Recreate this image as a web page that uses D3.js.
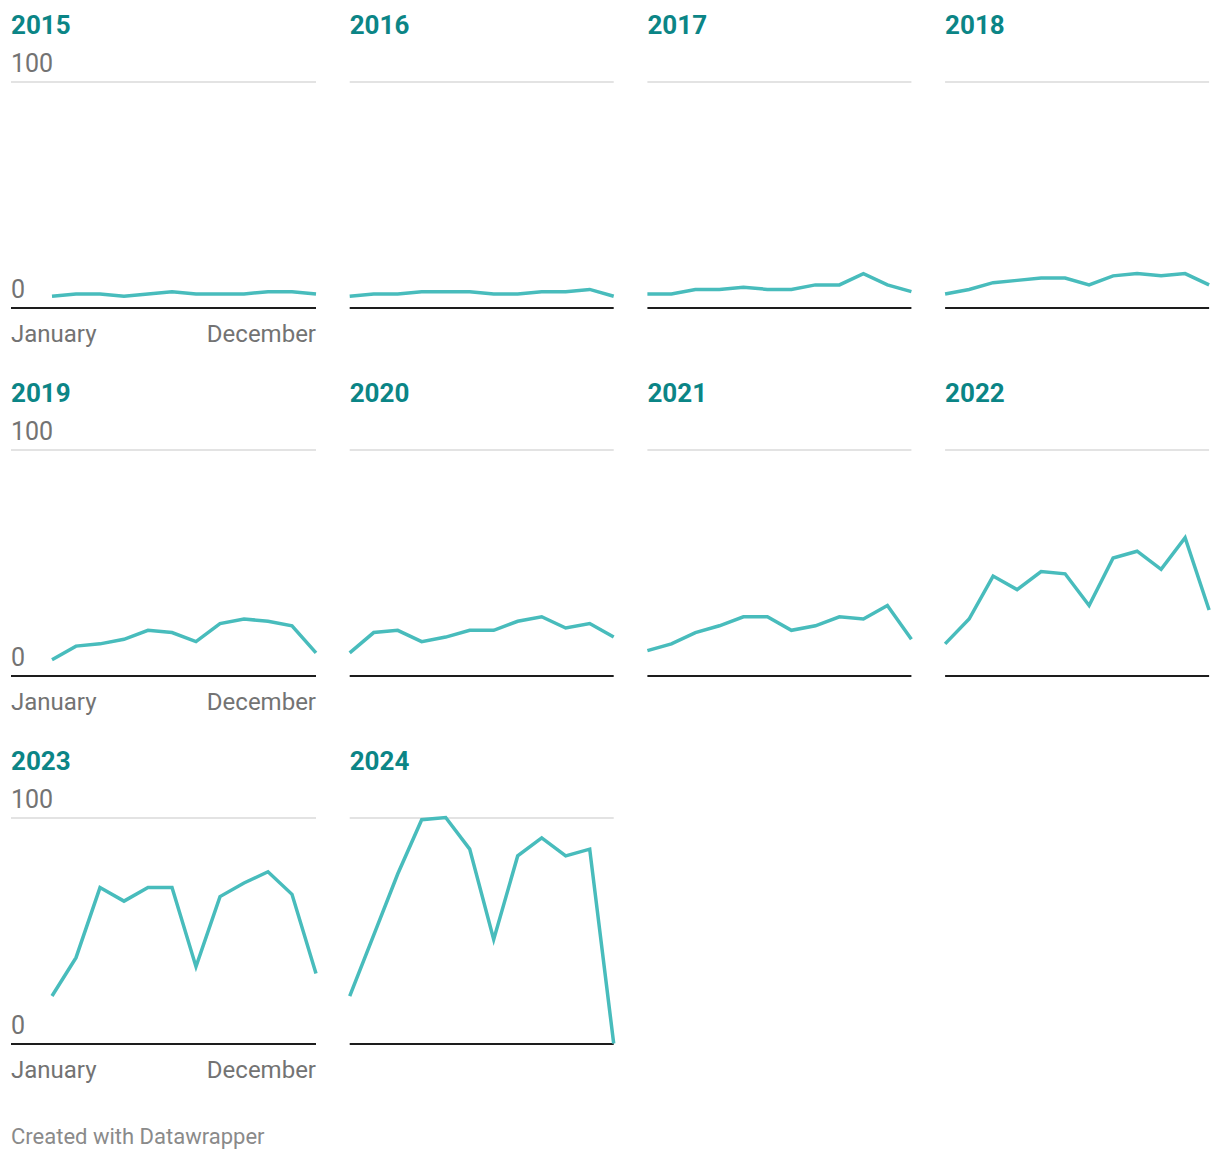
<!DOCTYPE html>
<html>
<head>
<meta charset="utf-8">
<script src="https://cdn.jsdelivr.net/npm/d3@7"></script>
<style>
  html, body { margin: 0; padding: 0; background: #fff; }
  svg { display: block; font-family: Roboto, "Noto Sans", sans-serif; }
</style>
</head>
<body>
<svg id="chart" width="1220" height="1160"></svg>
<script>
const months = ["January","February","March","April","May","June","July","August","September","October","November","December"];
const years = ["2015","2016","2017","2018","2019","2020","2021","2022","2023","2024"];
const yTicks = [0, 100];
const xTickLabels = ["January", "December"];

const v2015 = [5, 6, 6, 5, 6, 7, 6, 6, 6, 7, 7, 6];
const v2016 = [5, 6, 6, 7, 7, 7, 6, 6, 7, 7, 8, 5];
const v2017 = [6, 6, 8, 8, 9, 8, 8, 10, 10, 15, 10, 7];
const v2018 = [6, 8, 11, 12, 13, 13, 10, 14, 15, 14, 15, 10];
const v2019 = [7, 13, 14, 16, 20, 19, 15, 23, 25, 24, 22, 10];
const v2020 = [10, 19, 20, 15, 17, 20, 20, 24, 26, 21, 23, 17];
const v2021 = [11, 14, 19, 22, 26, 26, 20, 22, 26, 25, 31, 16];
const v2022 = [14, 25, 44, 38, 46, 45, 31, 52, 55, 47, 61, 29];
const v2023 = [21, 38, 69, 63, 69, 69, 34, 65, 71, 76, 66, 31];
const v2024 = [21, 48, 75, 99, 100, 86, 46, 83, 91, 83, 86, 0];
const seriesValues = [v2015, v2016, v2017, v2018, v2019, v2020, v2021, v2022, v2023, v2024];

const svg = d3.select("#chart");
const nCols = 4;
const colRight0 = 316, colStep = 297.7, plotW = 264;
const firstColLeft = 11;
const rowBase0 = 307.5, rowStep = 368, plotH = 226;

const lineColor = "#48bcbc";
const titleColor = "#0b8586";
const labelColor = "#737373";

years.forEach((yr, i) => {
  const col = i % nCols, row = Math.floor(i / nCols);
  const right = colRight0 + col * colStep;
  const left = right - plotW;
  const base = rowBase0 + row * rowStep;
  const top = base - plotH;
  const gridLeft = col === 0 ? firstColLeft : left;

  const x = d3.scalePoint().domain(months).range([left, right]);
  const y = d3.scaleLinear().domain([0, 100]).range([base, top]);

  const g = svg.append("g");

  g.append("text")
    .attr("x", gridLeft)
    .attr("y", top - 48)
    .attr("fill", titleColor)
    .attr("font-weight", 700)
    .attr("font-size", 26)
    .text(yr);

  const yAxis = d3.axisLeft(y).tickValues(yTicks).tickSize(-(right - gridLeft)).tickFormat("");
  const ga = g.append("g").attr("transform", `translate(${gridLeft},0)`).call(yAxis);
  ga.select(".domain").remove();
  ga.selectAll(".tick line")
    .attr("stroke", d => d === 0 ? "#1d1d1d" : "#e3e3e3")
    .attr("stroke-width", 2);

  if (col === 0) {
    yTicks.forEach(t => {
      g.append("text")
        .attr("x", gridLeft)
        .attr("y", y(t) - 10)
        .attr("fill", labelColor)
        .attr("font-size", 25)
        .text(d3.format("d")(t));
    });
    g.append("text")
      .attr("x", gridLeft)
      .attr("y", base + 34.5)
      .attr("fill", labelColor)
      .attr("font-size", 24)
      .text(xTickLabels[0]);
    g.append("text")
      .attr("x", right)
      .attr("y", base + 34.5)
      .attr("text-anchor", "end")
      .attr("fill", labelColor)
      .attr("font-size", 24)
      .text(xTickLabels[1]);
  }

  const line = d3.line()
    .x((d, k) => x(months[k]))
    .y(d => y(d));

  g.append("path")
    .datum(seriesValues[i])
    .attr("d", line)
    .attr("fill", "none")
    .attr("stroke", lineColor)
    .attr("stroke-width", 3.5)
    .attr("stroke-linejoin", "miter");
});

svg.append("text")
  .attr("x", 11)
  .attr("y", 1144)
  .attr("fill", "#8a8a8a")
  .attr("font-size", 22)
  .text("Created with Datawrapper");
</script>
</body>
</html>
